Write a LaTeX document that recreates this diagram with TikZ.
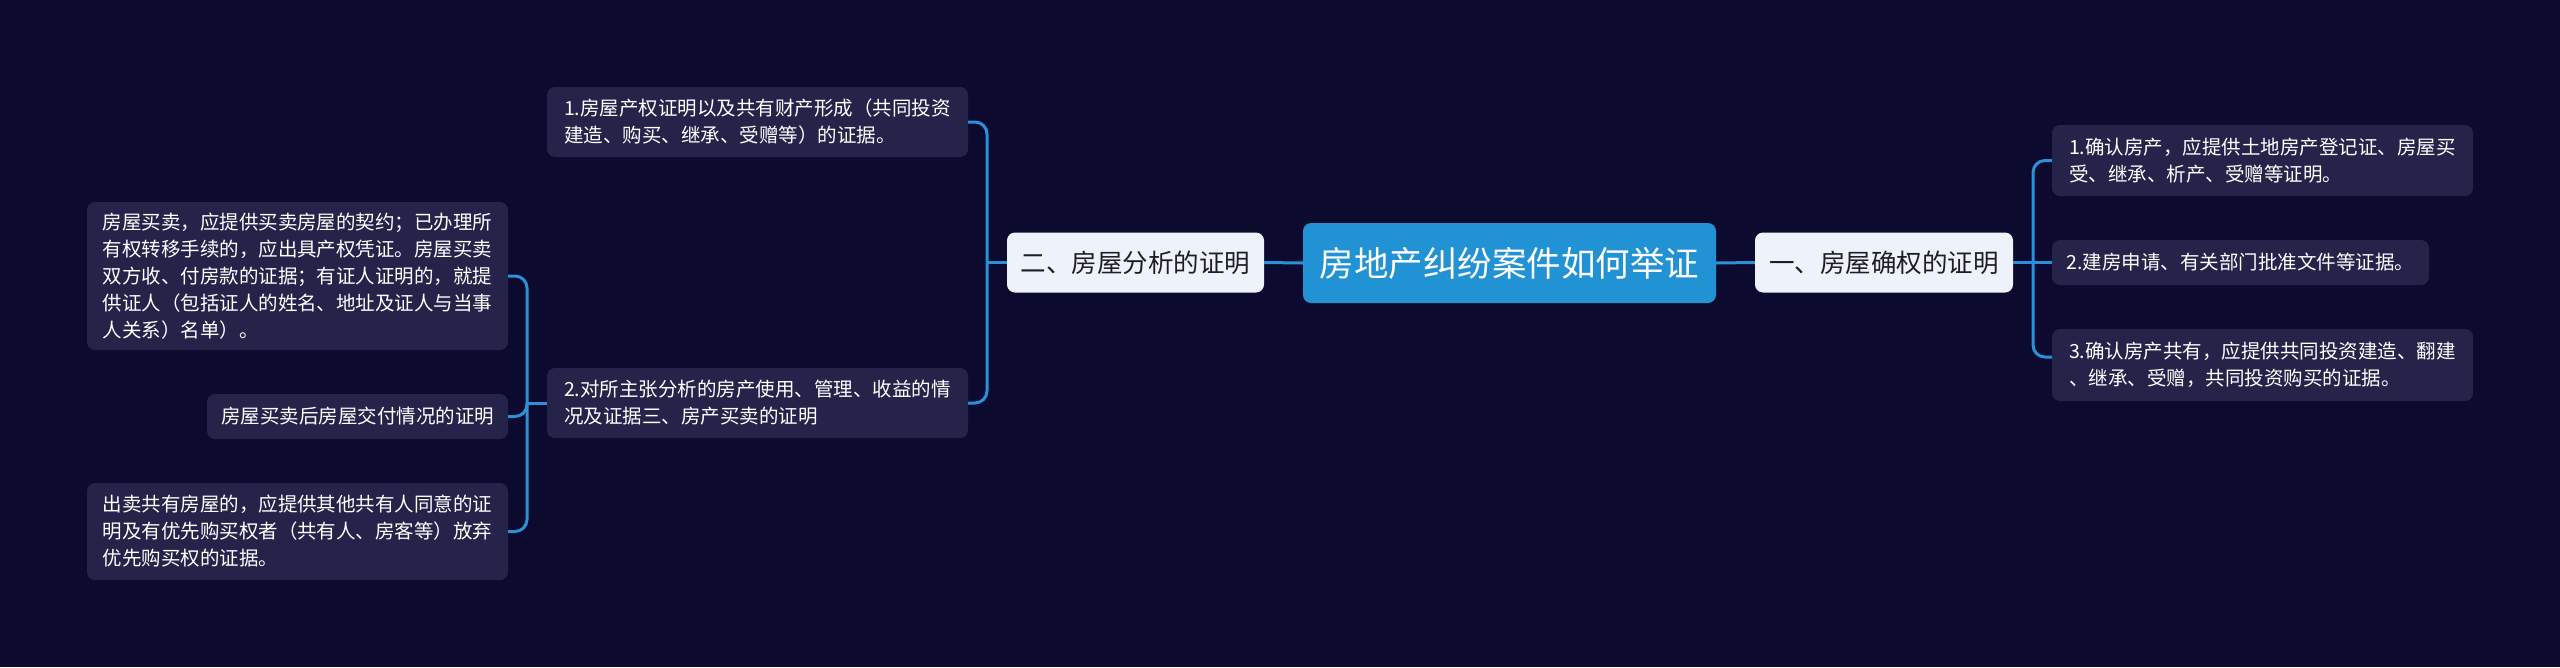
\documentclass[tikz,border=0pt]{standalone}
\usepackage{fontspec}
\newfontfamily\cjk{Noto Sans CJK SC}
\usetikzlibrary{calc}
\definecolor{bgc}{HTML}{0C0A2F}
\definecolor{leafc}{HTML}{26234A}
\definecolor{rootc}{HTML}{2192D3}
\definecolor{midc}{HTML}{EEF3FB}
\definecolor{midtext}{HTML}{1E1E24}
\definecolor{connc}{HTML}{2A90D8}
\begin{document}
\begin{tikzpicture}[x=1pt,y=-1pt,
  leaf/.style={fill=leafc, rounded corners=8pt, text=white, font=\cjk\fontsize{19.5}{27}\selectfont, align=left, inner sep=0pt},
  midn/.style={fill=midc, rounded corners=8pt, text=midtext, font=\cjk\fontsize{25.5}{30}\selectfont, inner sep=0pt, minimum height=60pt},
  rootn/.style={fill=rootc, rounded corners=8pt, text=white, font=\cjk\fontsize{34.5}{40}\selectfont, inner sep=0pt},
  conn/.style={draw=connc, line width=3pt},
  rc/.style={rounded corners=12pt}]
\fill[bgc] (0,0) rectangle (2560,667);
\useasboundingbox (0,0) rectangle (2560,667);

\node[rootn, minimum width=413pt, minimum height=80pt] (root) at (1509.5,263) {房地产纠纷案件如何举证};
\node[midn, minimum width=257pt] (m2) at (1135.5,262.5) {二、房屋分析的证明};
\node[midn, minimum width=258pt] (m1) at (1884,262.5) {一、房屋确权的证明};

\node[leaf, minimum width=421pt, minimum height=70pt] (L1) at (757.5,122) {1.房屋产权证明以及共有财产形成（共同投资\\建造、购买、继承、受赠等）的证据。};
\node[leaf, minimum width=421pt, minimum height=70pt] (L2) at (757.5,403) {2.对所主张分析的房产使用、管理、收益的情\\况及证据三、房产买卖的证明};

\node[leaf, minimum width=421pt, minimum height=148pt] (LL1) at (297.5,276) {房屋买卖，应提供买卖房屋的契约；已办理所\\有权转移手续的，应出具产权凭证。房屋买卖\\双方收、付房款的证据；有证人证明的，就提\\供证人（包括证人的姓名、地址及证人与当事\\人关系）名单）。};
\node[leaf, minimum width=301pt, minimum height=45pt] (LL2) at (357.5,416.5) {房屋买卖后房屋交付情况的证明};
\node[leaf, minimum width=421pt, minimum height=97pt] (LL3) at (297.5,531.5) {出卖共有房屋的，应提供其他共有人同意的证\\明及有优先购买权者（共有人、房客等）放弃\\优先购买权的证据。};

\node[leaf, minimum width=421pt, minimum height=71pt] (R1) at (2262.5,160.5) {1.确认房产，应提供土地房产登记证、房屋买\\受、继承、析产、受赠等证明。};
\node[leaf, minimum width=377pt, minimum height=45pt] (R2) at (2240.5,262.5) {2.建房申请、有关部门批准文件等证据。};
\node[leaf, minimum width=421pt, minimum height=72pt] (R3) at (2262.5,365) {3.确认房产共有，应提供共同投资建造、翻建\\、继承、受赠，共同投资购买的证据。};

\draw[conn] (root.west) -- (m2.east);
\draw[conn] (root.east) -- (m1.west);

\coordinate (bl) at (987,262.5);
\draw[conn] (m2.west) -- (bl);
\draw[conn,rc] (bl) |- (L1.east);
\draw[conn,rc] (bl) |- (L2.east);

\coordinate (bll) at (527,403);
\draw[conn] (L2.west) -- (bll);
\draw[conn,rc] (bll) |- (LL1.east);
\draw[conn,rc] (bll) |- (LL2.east);
\draw[conn,rc] (bll) |- (LL3.east);

\coordinate (br) at (2033,262.5);
\draw[conn] (m1.east) -- (br);
\draw[conn,rc] (br) |- (R1.west);
\draw[conn] (br) -- (R2.west);
\draw[conn,rc] (br) |- ([yshift=8pt]R3.west);
\end{tikzpicture}
\end{document}
